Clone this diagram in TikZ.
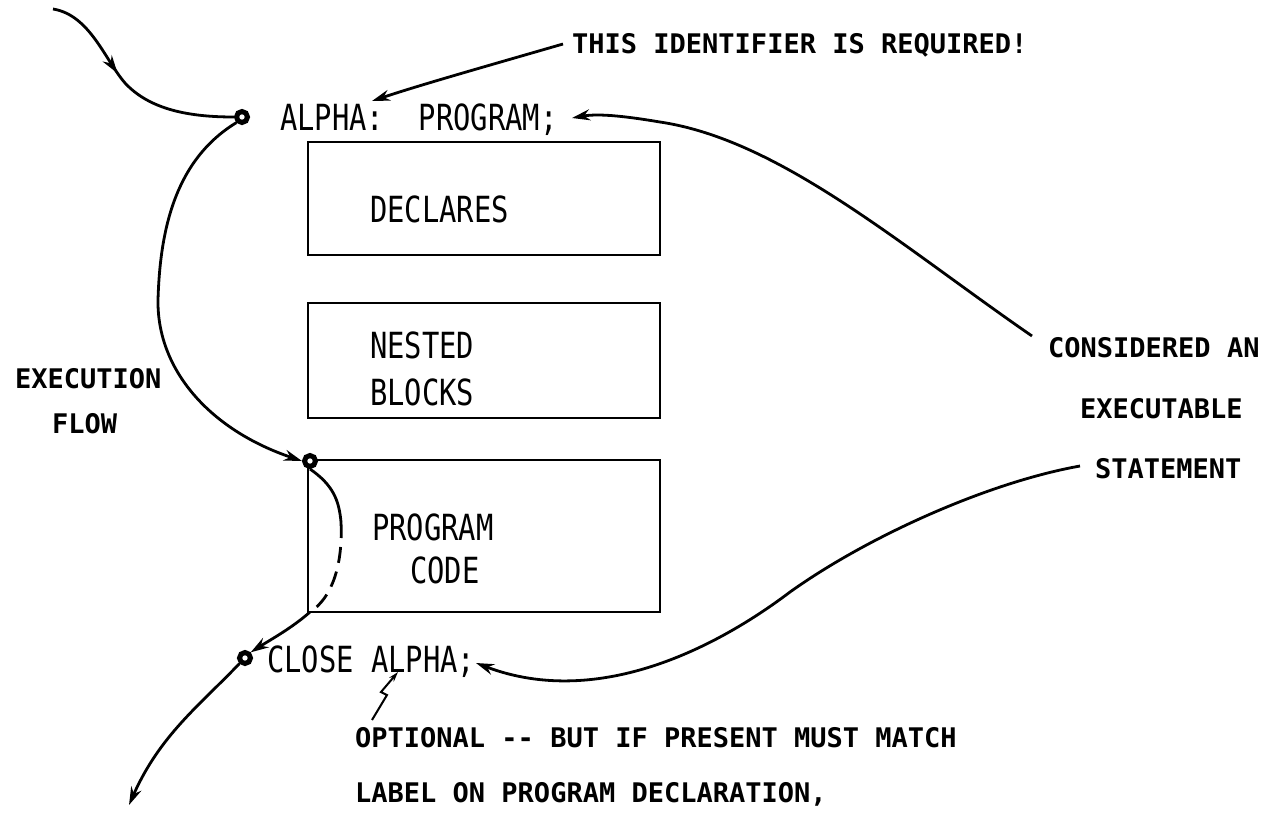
\documentclass[tikz,border=0pt]{standalone}
\usepackage{fontspec}
\newfontfamily\listfont[FakeStretch=0.8]{DejaVu Sans Mono}
\newfontfamily\notefont{DejaVu Sans Mono}
\usetikzlibrary{arrows.meta,decorations.markings}

\tikzset{
  bigtext/.style={font=\listfont\fontsize{36}{40}\selectfont, inner sep=0pt, anchor=base west},
  note/.style={font=\notefont\bfseries\fontsize{27}{30}\selectfont, inner sep=0pt, anchor=base west},
  block/.style={draw, line width=2.8pt, minimum width=352pt, inner sep=0pt},
  flow/.style={line width=2.8pt},
  tipped/.style={-{Stealth[length=18pt,width=11pt]}},
  hollowdot/.style={circle, draw, line width=5pt, fill=white, minimum size=11pt, inner sep=0pt},
  midtip/.style={postaction={decorate}, decoration={markings,
      mark=at position #1 with {\arrow{Stealth[length=18pt,width=11pt]}}}},
}

\begin{document}
\begin{tikzpicture}[x=1pt,y=-1pt]
\useasboundingbox (0,0) rectangle (1283,812);

% the three program blocks
\node[block, minimum height=113pt] (decl) at (484,198.5) {};
\node[block, minimum height=115pt] (nest) at (484,360.5) {};
\node[block, minimum height=152pt] (code) at (484,536) {};

% statement texts
\node[bigtext] (head) at (280,130) {ALPHA:~~PROGRAM;};
\node[bigtext] (t1) at (370,222) {DECLARES};
\node[bigtext] (t2) at (370,358) {NESTED};
\node[bigtext] (t3) at (370,405) {BLOCKS};
\node[bigtext] (t4) at (372,540) {PROGRAM};
\node[bigtext] (t5) at (410,583) {CODE};
\node[bigtext] (close) at (267,672) {CLOSE ALPHA;};

% remarks
\node[note] (req) at (572,53) {THIS IDENTIFIER IS REQUIRED!};
\node[note] (ex1) at (15,388) {EXECUTION};
\node[note] (ex2) at (52,433) {FLOW};
\node[note] (c1) at (1048,357) {CONSIDERED AN};
\node[note] (c2) at (1080,418) {EXECUTABLE};
\node[note] (c3) at (1095,478) {STATEMENT};
\node[note] (opt1) at (355,747) {OPTIONAL -{}- BUT IF PRESENT MUST MATCH};
\node[note] (opt2) at (355,802) {LABEL ON PROGRAM DECLARATION,};

% entry points
\node[hollowdot] (d1) at (242,117) {};
\node[hollowdot] (d2) at (310,461) {};
\node[hollowdot] (d3) at (245,658) {};

% free ends of connectors
\coordinate (start) at (53,9);
\coordinate (out) at (129,805);
\coordinate (reqtail) at (563,44);
\coordinate (reqtip) at (372,101);
\coordinate (headtip) at (572,118);
\coordinate (closetip) at (476,663);
\coordinate (cup) at (1032,336);
\coordinate (clow) at (1080,466);
\coordinate (dashA) at (341,522);
\coordinate (dashB) at (310,612);
\coordinate (zzA) at (372,720);
\coordinate (zzB) at (387,695);
\coordinate (zzC) at (381,692);
\coordinate (zzD) at (398,672);

% flow of execution
\draw[flow, midtip=0.42] (start) .. controls (90,15) and (105,60) .. (125,83)
  .. controls (150,110) and (190,117) .. (d1.west);
\draw[flow, tipped] (d1.south west) .. controls (175,160) and (160,230) .. (158,300)
  .. controls (157,370) and (210,430) .. (d2.west);
\draw[flow] (d2.south) .. controls (333,485) and (339,500) .. (dashA);
\draw[flow, dash pattern=on 16pt off 9pt] (dashA) .. controls (343,565) and (332,598) .. (dashB);
\draw[flow, tipped] (dashB) .. controls (292,628) and (270,640) .. (d3.north east);
\draw[flow, tipped] (d3.south west) .. controls (200,705) and (160,735) .. (out);

% remark pointers
\draw[flow, tipped] (reqtail) .. controls (480,68) and (420,85) .. (reqtip);
\draw[flow, tipped] (cup) .. controls (900,245) and (780,140) .. (660,122)
  .. controls (630,117) and (600,113) .. (headtip);
\draw[flow, tipped] (clow) .. controls (990,482) and (870,535) .. (790,592)
  .. controls (720,645) and (600,710) .. (closetip);
\draw[line width=2pt, -{Stealth[length=10pt,width=6pt]}] (zzA) -- (zzB) -- (zzC) -- (zzD);
\end{tikzpicture}
\end{document}
